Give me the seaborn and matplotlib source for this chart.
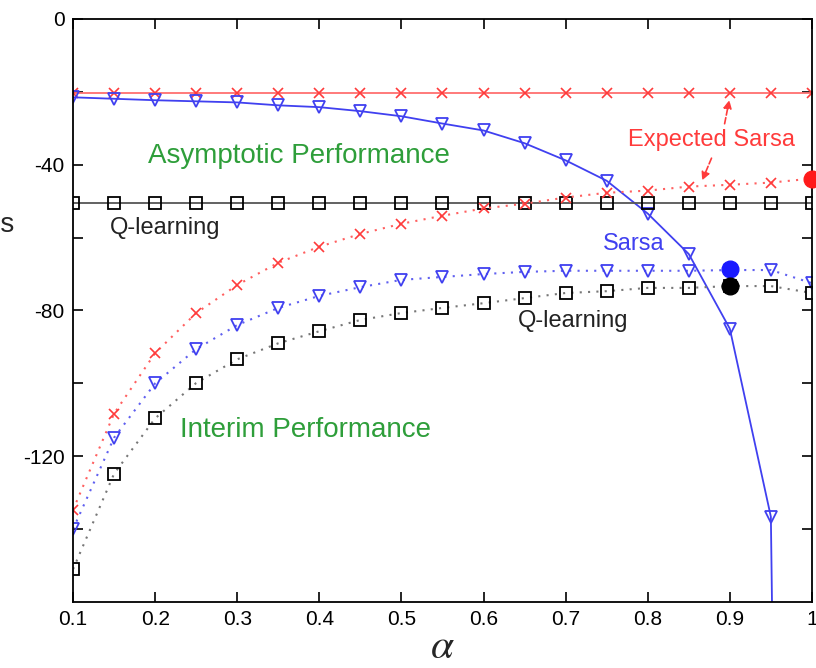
import numpy as np
import pandas as pd
import seaborn as sns
import matplotlib.pyplot as plt

alpha = [0.1, 0.15, 0.2, 0.25, 0.3, 0.35, 0.4, 0.45, 0.5, 0.55,
         0.6, 0.65, 0.7, 0.75, 0.8, 0.85, 0.9, 0.95, 1.0]

# asymptotic performance
esarsa_asym = [-20.2, -20.2, -20.2, -20.2, -20.2, -20.2, -20.2, -20.2, -20.2, -20.2,
               -20.2, -20.2, -20.2, -20.2, -20.2, -20.2, -20.2, -20.2, -20.2]
sarsa_asym = [-21.5, -21.9, -22.3, -22.6, -22.9, -23.7, -24.2, -25.3, -26.7, -28.7,
              -30.6, -34.1, -38.8, -44.4, -53.4, -64.5, -85.0, -136.6, -1000.0]
qlearn_asym = [-50.6, -50.6, -50.6, -50.6, -50.6, -50.6, -50.6, -50.6, -50.6, -50.6,
               -50.6, -50.6, -50.6, -50.6, -50.6, -50.6, -50.6, -50.6, -50.6]

# interim performance
esarsa_int = [-134.7, -108.3, -91.7, -80.7, -73.0, -66.9, -62.5, -59.0, -56.2, -54.0,
              -52.0, -50.7, -49.0, -47.7, -47.1, -46.0, -45.5, -44.9, -43.8]
sarsa_int = [-140.0, -114.9, -100.0, -90.6, -84.0, -79.3, -76.0, -73.6, -71.6, -70.8,
             -70.0, -69.4, -69.1, -69.1, -69.1, -69.1, -68.9, -68.9, -72.5]
qlearn_int = [-151.0, -124.8, -109.6, -99.9, -93.4, -89.0, -85.7, -82.6, -80.7, -79.3,
              -78.0, -76.6, -75.2, -74.7, -73.8, -73.8, -73.3, -73.3, -75.2]

# best interim points
best_alpha = [1.0, 0.9, 0.9]
best_value = [-43.8, -68.6, -73.3]
best_color = ['#ff1a1a', '#1a1aff', 'black']

RED = '#ff3b3b'
BLUE = '#4040f0'
GREEN = '#2e9e3a'

sns.set_style("ticks")
plt.rcParams['font.family'] = ['Liberation Sans', 'DejaVu Sans']
plt.rcParams['mathtext.fontset'] = 'stix'
plt.rcParams['axes.unicode_minus'] = False

fig = plt.figure(figsize=(8.16, 6.68), dpi=100)
ax = fig.add_axes([0.0895, 0.0988, 0.9055, 0.8728])

dotted = (0, (1, 3))

sns.lineplot(x=alpha, y=esarsa_asym, ax=ax, color='#ff7070', lw=1.3,
             marker='x', markersize=7, markeredgewidth=1.2, markeredgecolor=RED)
sns.lineplot(x=alpha, y=sarsa_asym, ax=ax, color=BLUE, lw=1.3,
             marker='v', markersize=9, markerfacecolor='none',
             markeredgewidth=1.3, markeredgecolor=BLUE)
sns.lineplot(x=alpha, y=qlearn_asym, ax=ax, color='#555555', lw=1.3,
             marker='s', markersize=9, markerfacecolor='none',
             markeredgewidth=1.3, markeredgecolor='black')

sns.lineplot(x=alpha, y=esarsa_int, ax=ax, color='#ff6060', lw=1.5, linestyle=dotted,
             marker='x', markersize=7, markeredgewidth=1.2, markeredgecolor=RED)
sns.lineplot(x=alpha, y=sarsa_int, ax=ax, color='#6060f0', lw=1.5, linestyle=dotted,
             marker='v', markersize=9, markerfacecolor='none',
             markeredgewidth=1.3, markeredgecolor=BLUE)
sns.lineplot(x=alpha, y=qlearn_int, ax=ax, color='#777777', lw=1.5, linestyle=dotted,
             marker='s', markersize=9, markerfacecolor='none',
             markeredgewidth=1.3, markeredgecolor='black')

best = pd.DataFrame({'alpha': best_alpha, 'value': best_value, 'c': best_color})
for _, r in best.iterrows():
    ax.plot(r['alpha'], r['value'], 'o', color=r['c'], markersize=12, zorder=5,
            clip_on=False)

ax.set_xlim(0.1, 1.0)
ax.set_ylim(-160, 0)
ax.set_xticks([0.1, 0.2, 0.3, 0.4, 0.5, 0.6, 0.7, 0.8, 0.9, 1.0])
ax.set_xticklabels(['0.1', '0.2', '0.3', '0.4', '0.5', '0.6', '0.7', '0.8', '0.9', '1'])
ax.set_yticks([0, -40, -80, -120])
ax.set_yticks([-20, -60, -100, -140], minor=True)
ax.tick_params(which='both', direction='in', top=True, right=True,
               labelsize=15, length=7, width=1.2, colors='black', pad=6)
for s in ax.spines.values():
    s.set_linewidth(1.3)
    s.set_color('black')

ax.set_xlabel(r'$\alpha$', fontsize=30, labelpad=-2)
fig.text(0.018, 0.663, 'Rewards', ha='right', va='center', fontsize=20)

ax.text(0.191, -37.5, 'Asymptotic Performance', color=GREEN, fontsize=20, va='center')
ax.text(0.23, -112.7, 'Interim Performance', color=GREEN, fontsize=20, va='center')
ax.text(0.145, -57.3, 'Q-learning', color='#222222', fontsize=17, va='center')
ax.text(0.642, -83.0, 'Q-learning', color='#222222', fontsize=17, va='center')
ax.text(0.745, -61.7, 'Sarsa', color=BLUE, fontsize=17, va='center')
ax.text(0.776, -33.3, 'Expected Sarsa', color=RED, fontsize=17, va='center')

ax.annotate('', xy=(0.9, -21.5), xytext=(0.893, -29.5),
            arrowprops=dict(arrowstyle='-|>', color=RED, lw=1.2, linestyle='--',
                            mutation_scale=12))
ax.annotate('', xy=(0.865, -45.0), xytext=(0.879, -37.5),
            arrowprops=dict(arrowstyle='-|>', color=RED, lw=1.2, linestyle='--',
                            mutation_scale=12))

plt.savefig('out.png', dpi=100)
